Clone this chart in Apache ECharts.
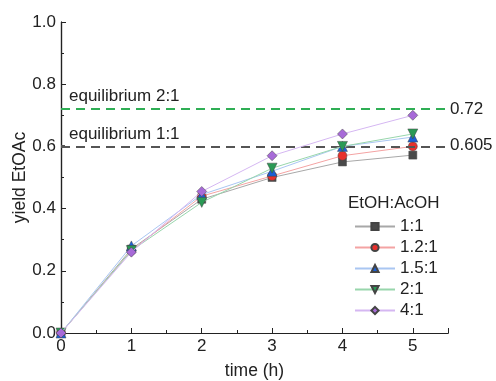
<!DOCTYPE html>
<html><head><meta charset="utf-8">
<script src="https://cdn.jsdelivr.net/npm/echarts@6/dist/echarts.min.js"></script>
<style>html,body{margin:0;padding:0;background:#fff}#c{width:496px;height:381px}</style>
</head><body><div id="c"></div>
<script>
const times = [0, 1, 2, 3, 4, 5];
const ratioNames = ['1:1', '1.2:1', '1.5:1', '2:1', '4:1'];
const y_1_1   = [0, 0.27, 0.43, 0.50, 0.55, 0.572];
const y_1_2_1 = [0, 0.265, 0.44, 0.505, 0.57, 0.60];
const y_1_5_1 = [0, 0.28, 0.445, 0.52, 0.60, 0.63];
const y_2_1   = [0, 0.265, 0.42, 0.53, 0.60, 0.64];
const y_4_1   = [0, 0.26, 0.455, 0.57, 0.64, 0.70];
const equilibriumValues = [0.605, 0.72];
const equilibriumLabels = ['equilibrium 1:1', 'equilibrium 2:1'];
const legendTitle = 'EtOH:AcOH';

const font = 'Liberation Sans, Arial, sans-serif';
const seriesData = [y_1_1, y_1_2_1, y_1_5_1, y_2_1, y_4_1];
const symbols = ['rect', 'circle', 'triangle', 'triangle', 'diamond'];
const rotates = [0, 0, 0, 180, 0];
const sizes = [8, 9, 10, 10, 10];
const fill = ['#4a4a4a', '#e8302c', '#1a5fd6', '#2a9a55', '#a76ad8'];
const lineCol = ['#a8a8a8', '#f4a3a3', '#a9c6f2', '#98d6ac', '#d5b7f2'];
const eqColors = ['#555555', '#2fae55'];

const series = seriesData.map((d, i) => ({
  name: ratioNames[i], type: 'line',
  data: times.map((t, j) => [t, d[j]]),
  symbol: symbols[i], symbolRotate: rotates[i], symbolSize: sizes[i],
  lineStyle: { color: lineCol[i], width: 1 },
  itemStyle: { color: fill[i], borderColor: '#444', borderWidth: 0.5 },
  z: 3 + i,
  markLine: i === 0 ? {
    silent: true, symbol: 'none',
    data: equilibriumValues.map((v, k) => ({
      yAxis: v,
      lineStyle: { color: eqColors[k], type: [9, 6], width: 1.8 },
      label: { show: true, position: 'insideStartTop', formatter: equilibriumLabels[k],
        color: '#222', fontSize: 17, fontFamily: font, distance: [8, 4] }
    }))
  } : undefined
}));

const chart = echarts.init(document.getElementById('c'));
chart.setOption({
  animation: false,
  grid: { left: 61, right: 48, top: 22, bottom: 48, outerBoundsMode: 'none', containLabel: false },
  title: { text: legendTitle, left: 343, top: 190,
    textStyle: { fontSize: 17, fontWeight: 'normal', color: '#222', fontFamily: font } },
  legend: {
    orient: 'vertical', left: 349, top: 213, itemWidth: 40, itemHeight: 9, itemGap: 4,
    textStyle: { fontSize: 17, color: '#222', fontFamily: font },
    data: ratioNames
  },
  xAxis: [{
    type: 'value', min: 0, max: 5.5, interval: 1,
    name: 'time (h)', nameLocation: 'middle', nameGap: 29, nameMoveOverlap: false,
    nameTextStyle: { fontSize: 17.5, color: '#222', fontFamily: font },
    axisLine: { lineStyle: { color: '#222', width: 1.2 } },
    axisTick: { inside: true, length: 5, lineStyle: { color: '#222' } },
    minorTick: { show: true, splitNumber: 2, length: 3, lineStyle: { color: '#222' } },
    axisLabel: { fontSize: 17, color: '#222', fontFamily: font, margin: 5,
      showMaxLabel: false, formatter: v => String(v) },
    splitLine: { show: false }
  }, {
    type: 'value', position: 'top', min: 0, max: 5.5,
    axisLine: { show: true, lineStyle: { color: '#222', width: 1.2 } },
    axisTick: { show: false }, axisLabel: { show: false }, splitLine: { show: false }
  }],
  yAxis: [{
    type: 'value', min: 0, max: 1, interval: 0.2,
    name: 'yield EtOAc', nameLocation: 'middle', nameGap: 32, nameMoveOverlap: false,
    nameTextStyle: { fontSize: 17.5, color: '#222', fontFamily: font },
    axisLine: { show: true, lineStyle: { color: '#222', width: 1.2 } },
    axisTick: { inside: true, length: 5, lineStyle: { color: '#222' } },
    minorTick: { show: true, splitNumber: 2, length: 3, lineStyle: { color: '#222' } },
    axisLabel: { fontSize: 17, color: '#222', fontFamily: font, margin: 5,
      formatter: v => v.toFixed(1) },
    splitLine: { show: false }
  }, {
    type: 'value', position: 'right', min: 0, max: 1,
    axisLine: { show: true, lineStyle: { color: '#222', width: 1.2 } },
    axisTick: { show: true, inside: false, length: 4, customValues: equilibriumValues, lineStyle: { color: '#555' } },
    axisLabel: { show: true, customValues: equilibriumValues, fontSize: 17, color: '#222',
      fontFamily: font, margin: 2, formatter: v => String(v) },
    splitLine: { show: false }
  }],
  series: series
});
</script></body></html>
